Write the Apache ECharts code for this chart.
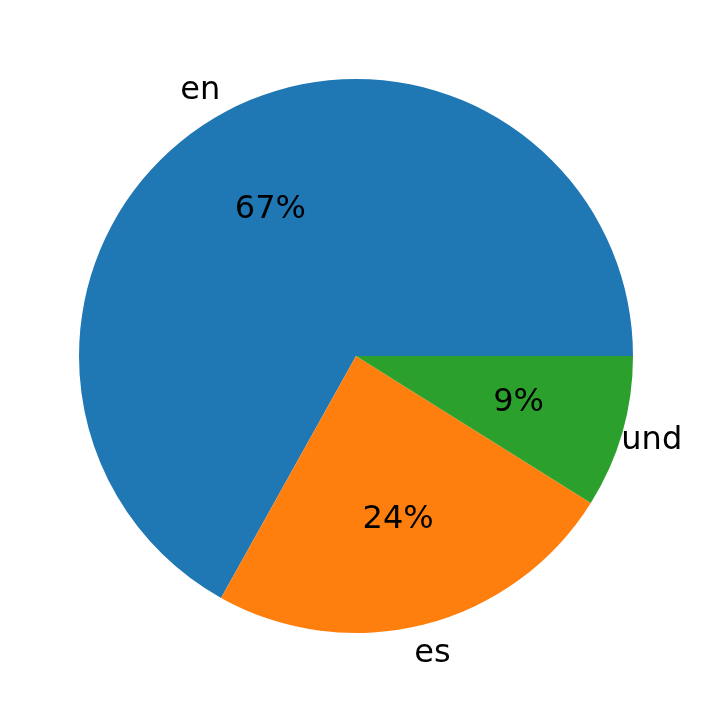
<!DOCTYPE html>
<html><head><meta charset="utf-8">
<script src="https://cdn.jsdelivr.net/npm/echarts@6/dist/echarts.min.js"></script>
<style>html,body{margin:0;padding:0;background:#fff}#c{width:725px;height:713px}</style>
</head><body><div id="c"></div>
<script>
const categories = ['en', 'es', 'und'];
const values = [66.9, 24.2, 8.9];
const pctLabels = ['67%', '24%', '9%'];
const colors = ['#1f77b4', '#ff7f0e', '#2ca02c'];
const outerAlign = ['right', 'left', 'left'];

const R = 277;
const font = { fontFamily: 'DejaVu Sans', fontSize: 32, color: '#000' };
const base = { type: 'pie', center: [356, 356], startAngle: 0, clockwise: false, silent: true, animation: false, labelLine: { show: false } };

const chart = echarts.init(document.getElementById('c'));
chart.setOption({
  series: [
    Object.assign({}, base, {
      radius: [0, R],
      label: { show: false },
      data: categories.map((c, i) => ({ name: c, value: values[i], itemStyle: { color: colors[i] } }))
    }),
    Object.assign({}, base, {
      radius: [R * 0.4, R * 0.8],
      label: Object.assign({ show: true, position: 'inside', formatter: p => pctLabels[p.dataIndex] }, font),
      data: categories.map((c, i) => ({ name: c, value: values[i], itemStyle: { color: 'transparent' } }))
    }),
    Object.assign({}, base, {
      radius: [R * 1.05, R * 1.15],
      label: Object.assign({ show: true, position: 'inside', formatter: '{b}' }, font),
      data: categories.map((c, i) => ({ name: c, value: values[i], itemStyle: { color: 'transparent' }, label: { align: outerAlign[i] } }))
    })
  ]
});
</script></body></html>
